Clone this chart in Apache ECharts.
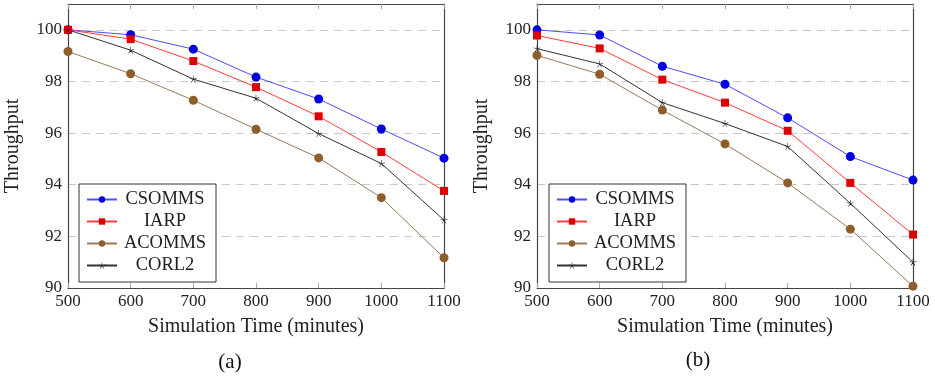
<!DOCTYPE html>
<html>
<head>
<meta charset="utf-8">
<script src="https://cdn.jsdelivr.net/npm/echarts@6/dist/echarts.min.js"></script>
<style>
  html, body { margin: 0; padding: 0; background: #fff; }
  #main { width: 935px; height: 377px; }
</style>
</head>
<body>
<div id="main"></div>
<script>
// simulation time (minutes)
const times = [500, 600, 700, 800, 900, 1000, 1100];

// (a)
const aCsomms = [100, 99.81, 99.25, 98.17, 97.32, 96.16, 95.03];
const aIarp   = [100, 99.64, 98.79, 97.78, 96.65, 95.27, 93.76];
const aAcomms = [99.16, 98.30, 97.27, 96.15, 95.04, 93.50, 91.17];
const aCorl2  = [100, 99.21, 98.09, 97.35, 95.98, 94.82, 92.63];

// (b)
const bCsomms = [100, 99.80, 98.59, 97.89, 96.59, 95.09, 94.18];
const bIarp   = [99.78, 99.28, 98.07, 97.18, 96.09, 94.07, 92.07];
const bAcomms = [99.01, 98.28, 96.89, 95.58, 94.07, 92.28, 90.07];
const bCorl2  = [99.27, 98.68, 97.18, 96.37, 95.48, 93.28, 91.00];

const names = ['CSOMMS', 'IARP', 'ACOMMS', 'CORL2'];

const FONT = 'Liberation Serif';

// 5-arm asterisk like the pgfplots "star" mark
function starPath() {
  let d = '';
  const w = 0.08;
  for (let k = 0; k < 5; k++) {
    const a = (-90 + 72 * k) * Math.PI / 180;
    const px = -Math.sin(a) * w, py = Math.cos(a) * w;
    const ex = Math.cos(a), ey = Math.sin(a);
    d += 'M' + (px).toFixed(3) + ' ' + (py).toFixed(3) +
         'L' + (ex + px).toFixed(3) + ' ' + (ey + py).toFixed(3) +
         'L' + (ex - px).toFixed(3) + ' ' + (ey - py).toFixed(3) +
         'L' + (-px).toFixed(3) + ' ' + (-py).toFixed(3) + 'Z';
  }
  return 'path://' + d;
}

const styles = {
  CSOMMS: { line: '#4d4dff', mark: '#0000e0', symbol: 'circle', size: 9 },
  IARP:   { line: '#ff3b3b', mark: '#dd0000', symbol: 'rect', size: 8 },
  ACOMMS: { line: '#9a7a5a', mark: '#8e5d2c', symbol: 'circle', size: 9 },
  CORL2:  { line: '#333333', mark: '#222222', symbol: starPath(), size: 7 }
};

function makeSeries(name, values, idx) {
  const s = styles[name];
  return {
    name: name,
    type: 'line',
    xAxisIndex: idx,
    yAxisIndex: idx,
    data: times.map((t, i) => [t, values[i]]),
    symbol: s.symbol,
    symbolSize: s.size,
    showAllSymbol: true,
    lineStyle: { color: s.line, width: 1 },
    itemStyle: { color: s.mark },
    emphasis: { disabled: true },
    z: 3
  };
}

function xAxes(idx) {
  const common = {
    type: 'value', gridIndex: idx, min: 500, max: 1100, interval: 100,
    axisLine: { show: true, onZero: false, lineStyle: { color: '#444', width: 1.2 } },
    axisTick: { show: true, inside: true, length: 5, lineStyle: { color: '#aaa' } },
    splitLine: { show: false }
  };
  return [
    Object.assign({}, common, {
      position: 'bottom',
      name: 'Simulation Time (minutes)',
      nameLocation: 'middle',
      nameGap: 29,
      nameTextStyle: { fontFamily: FONT, fontSize: 20, color: '#222' },
      axisLabel: {
        fontFamily: FONT, fontSize: 17, color: '#222', margin: 5,
        formatter: v => String(v)
      }
    }),
    Object.assign({}, common, {
      position: 'top',
      axisLabel: { show: false }
    })
  ];
}

function yAxes(idx) {
  const common = {
    type: 'value', gridIndex: idx, min: 90, max: 101, interval: 2,
    axisLine: { show: true, onZero: false, lineStyle: { color: '#444', width: 1.2 } },
    axisTick: { show: false }
  };
  return [
    Object.assign({}, common, {
      position: 'left',
      name: 'Throughput',
      nameLocation: 'middle',
      nameGap: 45,
      nameTextStyle: { fontFamily: FONT, fontSize: 20, color: '#222' },
      axisLabel: {
        fontFamily: FONT, fontSize: 17, color: '#222', margin: 6,
        formatter: v => (v > 100 ? '' : String(v))
      },
      splitLine: {
        show: true,
        lineStyle: { color: '#c8c8c8', type: [8, 6], width: 1 }
      }
    }),
    Object.assign({}, common, {
      position: 'right',
      axisLabel: { show: false },
      splitLine: { show: false }
    })
  ];
}

function legend(idx, left) {
  return {
    show: true,
    orient: 'vertical',
    left: left,
    top: 184,
    padding: [6, 8, 7, 7],
    itemGap: 3,
    itemWidth: 30,
    itemHeight: 8,
    borderColor: '#333',
    borderWidth: 1,
    borderRadius: 0,
    backgroundColor: '#fff',
    data: names,
    selectedMode: false,
    formatter: n => '{t|' + n + '}',
    textStyle: {
      lineHeight: 16,
      rich: {
        t: { width: 86, height: 16, lineHeight: 16, align: 'center', fontFamily: FONT, fontSize: 18.5, color: '#222' }
      }
    }
  };
}

const chart = echarts.init(document.getElementById('main'), null, { renderer: 'canvas' });

const xa = xAxes(0).concat(xAxes(1));
const ya = yAxes(0).concat(yAxes(1));
// axis indices: grid0 -> x 0,1 / y 0,1 ; grid1 -> x 2,3 / y 2,3
const series = [
  makeSeries('CSOMMS', aCsomms, 0),
  makeSeries('IARP', aIarp, 0),
  makeSeries('ACOMMS', aAcomms, 0),
  makeSeries('CORL2', aCorl2, 0),
  makeSeries('CSOMMS', bCsomms, 2),
  makeSeries('IARP', bIarp, 2),
  makeSeries('ACOMMS', bAcomms, 2),
  makeSeries('CORL2', bCorl2, 2)
];

chart.setOption({
  animation: false,
  backgroundColor: '#fff',
  grid: [
    { left: 68, right: 491, top: 4, bottom: 89 },
    { left: 537, right: 22, top: 4, bottom: 89 }
  ],
  xAxis: xa,
  yAxis: ya,
  legend: [legend(0, 79), legend(1, 549)],
  series: series,
  graphic: [
    { type: 'text', x: 230, y: 362, style: { text: '(a)', fontFamily: FONT, fontSize: 21, fill: '#111', textAlign: 'center', textVerticalAlign: 'middle' } },
    { type: 'text', x: 698, y: 360, style: { text: '(b)', fontFamily: FONT, fontSize: 21, fill: '#111', textAlign: 'center', textVerticalAlign: 'middle' } }
  ]
});
</script>
</body>
</html>
